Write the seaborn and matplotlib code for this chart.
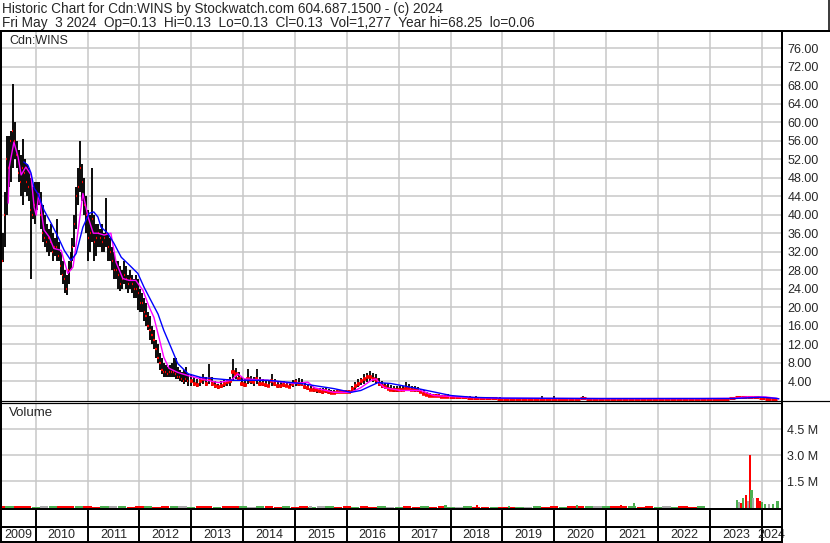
import numpy as np
import pandas as pd
import matplotlib
matplotlib.use("Agg")
import matplotlib.pyplot as plt
from matplotlib.lines import Line2D
import seaborn as sns

# ---------------- data ----------------
# Segment A: bars every 14 days from May 2009
A_START, A_FREQ = "2009-05-01", "14D"
a_hi = [37, 36, 45, 57, 57, 58, 68.3, 60, 56, 54, 53, 56.4, 52, 51, 50, 48, 46, 47, 47, 47,
        45, 42, 40, 38, 37, 38, 36, 35, 39, 34, 32, 30, 28, 27, 30, 32, 35, 40, 46, 50,
        56, 51, 48, 44, 41, 40, 50, 40, 38, 38, 37, 38, 36, 43.6, 36, 35, 33, 32, 30, 30,
        29, 28, 30, 29, 27, 28, 27, 26, 27, 26, 24, 23, 22, 21, 19, 18, 16, 15, 13, 12,
        10, 9, 8, 7.5, 7, 7.5, 8, 9, 9, 7, 6.5, 6, 6.5, 7, 5.5]
a_lo = [30, 29.7, 33, 40, 46, 47, 50, 52, 50, 47, 44, 42, 45, 44, 43, 26.2, 39, 38, 41, 42,
        37, 34, 33, 32, 31, 32, 30, 31, 30, 30, 27, 25, 23, 22.6, 25, 28, 30, 33, 37, 42,
        45, 43, 40, 36, 30, 32, 34, 30, 31, 33, 33, 32, 32, 33, 30, 30, 28, 26, 26, 24,
        23.6, 24, 25, 24, 23, 24, 23, 22, 22, 19.3, 19, 19, 17, 16, 15, 13, 12, 11, 9, 8,
        6.5, 5.5, 5, 5, 5, 5, 5, 5, 4.5, 4.5, 4, 3.8, 3.5, 3.8, 3]
a_cl = [33, 30, 40, 52, 50, 56, 58, 56, 53, 49, 47, 50, 49, 47, 46, 41, 40, 42, 45, 44,
        40, 36, 35, 34, 35, 34, 32, 33, 33, 31, 29, 27, 26, 24, 28, 30, 33, 38, 44, 46,
        50, 47, 42, 40, 35, 36, 39, 34, 35, 36, 35, 34, 35, 36, 33, 32, 30, 28, 28, 27,
        25, 26, 27, 26, 25, 26, 25, 24, 24, 23, 21, 21, 19, 18, 16, 15, 14, 13, 11, 9,
        8, 6.5, 6, 6, 5.5, 6, 6, 6, 5.5, 5, 5, 4.5, 4, 4.5, 4]

# Segment B: bars every 21 days from 2013
B_START, B_FREQ = "2013-01-01", "21D"
b_hi = [5.5, 5.0, 4.5, 5.0, 5.5, 5.0, 7.8, 5.0, 4.0, 3.5, 4.0, 4.3, 4.5, 5.0, 8.9, 6.8, 6.0, 5.0,
        4.5, 6.7, 5.2, 5.0, 6.7, 5.0, 4.5, 4.0, 4.0, 5.6, 4.5, 4.0, 3.8, 4.0, 3.8, 3.6, 4.3, 4.5,
        4.8, 4.5, 3.8, 3.5, 3.0, 2.8, 2.6, 2.6, 2.5, 2.6, 2.4, 2.2, 2.0, 2.0, 2.0, 2.0, 2.0, 2.2,
        3.0, 3.8, 4.5, 4.8, 5.6, 5.8, 6.2, 5.8, 5.5, 4.6, 4.0, 3.6, 3.4, 3.2, 3.0, 3.0, 3.0, 3.0,
        3.8, 3.4, 3.0, 3.0, 2.8, 2.4, 2.0, 1.6, 1.4, 1.3, 1.2, 1.2, 1.0, 1.0, 1.2]
b_lo = [3.0, 3.0, 2.8, 3.0, 3.5, 3.0, 3.5, 3.0, 2.5, 2.4, 2.6, 2.8, 3.0, 3.0, 4.0, 4.5, 4.0, 3.0,
        2.8, 3.5, 3.5, 3.0, 3.5, 3.0, 3.0, 2.8, 2.7, 3.0, 3.0, 2.6, 2.6, 2.7, 2.7, 2.6, 2.8, 3.0,
        3.0, 3.0, 2.4, 2.2, 2.0, 1.7, 1.5, 1.5, 1.3, 1.4, 1.3, 1.3, 1.3, 1.4, 1.4, 1.4, 1.4, 1.4,
        1.6, 2.2, 2.8, 3.2, 3.5, 3.8, 4.0, 3.8, 3.5, 3.0, 2.6, 2.4, 2.0, 1.8, 1.6, 1.6, 1.8, 1.8,
        2.0, 2.0, 1.8, 1.7, 1.6, 1.4, 1.0, 0.7, 0.6, 0.6, 0.5, 0.5, 0.4, 0.4, 0.4]
b_cl = [4.0, 3.5, 3.2, 4.0, 4.5, 3.5, 4.5, 3.5, 3.0, 2.8, 3.0, 3.5, 3.8, 4.0, 6.0, 5.5, 4.5, 3.5,
        3.2, 4.5, 4.0, 3.8, 4.5, 3.5, 3.5, 3.2, 3.0, 4.0, 3.5, 3.0, 3.0, 3.2, 3.0, 2.8, 3.5, 3.8,
        3.5, 3.5, 2.8, 2.6, 2.2, 2.0, 2.0, 1.8, 1.6, 1.8, 1.6, 1.5, 1.5, 1.6, 1.6, 1.6, 1.6, 1.7,
        2.4, 3.0, 3.5, 4.0, 4.5, 5.0, 5.0, 4.5, 4.2, 3.5, 3.0, 2.8, 2.4, 2.2, 2.0, 2.0, 2.2, 2.2,
        2.4, 2.4, 2.2, 2.0, 2.0, 1.6, 1.3, 1.0, 0.9, 0.8, 0.7, 0.7, 0.6, 0.5, 0.6]

# Segment C: bars every 42 days from 2018
C_START, C_FREQ = "2018-01-12", "42D"
c_hi = [1.0, 0.9, 0.9, 0.8, 0.7, 0.6, 0.6, 0.5, 0.5, 0.45, 0.4, 0.4, 0.35, 0.4, 0.45, 0.7, 0.4,
        0.7, 0.4, 0.35, 0.4, 0.45, 0.7, 0.45, 0.4, 0.4, 0.35, 0.35, 0.4, 0.35, 0.35, 0.4, 0.35,
        0.35, 0.4, 0.35, 0.35, 0.4, 0.35, 0.35, 0.4, 0.35, 0.35, 0.4, 0.35, 0.35, 0.4, 0.6, 0.9,
        0.8, 0.8, 0.7, 0.6, 0.4, 0.3]
c_lo = [0.4, 0.3, 0.3, 0.3, 0.2, 0.2, 0.2, 0.2, 0.15, 0.12, 0.1, 0.1, 0.1, 0.1, 0.1, 0.1, 0.1,
        0.12, 0.1, 0.1, 0.1, 0.12, 0.15, 0.12, 0.1, 0.1, 0.08, 0.08, 0.08, 0.08, 0.08, 0.08, 0.08,
        0.08, 0.08, 0.08, 0.08, 0.08, 0.08, 0.08, 0.08, 0.08, 0.08, 0.08, 0.08, 0.08, 0.08, 0.2,
        0.3, 0.35, 0.35, 0.3, 0.2, 0.1, 0.1]
c_cl = [0.6, 0.5, 0.5, 0.4, 0.4, 0.35, 0.3, 0.3, 0.25, 0.2, 0.2, 0.2, 0.15, 0.2, 0.2, 0.25, 0.2,
        0.25, 0.2, 0.15, 0.2, 0.2, 0.3, 0.2, 0.2, 0.15, 0.15, 0.15, 0.15, 0.15, 0.15, 0.15, 0.15,
        0.15, 0.15, 0.15, 0.15, 0.15, 0.15, 0.15, 0.15, 0.15, 0.15, 0.15, 0.15, 0.15, 0.15, 0.4,
        0.6, 0.6, 0.55, 0.5, 0.3, 0.15, 0.13]

# moving averages (decimal year, price)
ma_fast_year = [2009.47, 2009.49, 2009.58, 2009.66, 2009.72, 2009.81, 2009.91, 2009.97, 2010.01,
                2010.06, 2010.16, 2010.26, 2010.35, 2010.49, 2010.62, 2010.72, 2010.82, 2010.91,
                2011.01, 2011.11, 2011.20, 2011.32, 2011.45, 2011.55, 2011.68, 2011.80, 2011.93,
                2012.07, 2012.19, 2012.28, 2012.38, 2012.47, 2012.57, 2012.74, 2012.94, 2013.19,
                2013.52, 2013.77, 2013.90, 2014.02, 2014.48, 2014.98, 2015.25, 2015.37, 2015.75,
                2016.08, 2016.27, 2016.47, 2016.56, 2016.72, 2017.04, 2017.43, 2017.68, 2018.34,
                2018.97, 2020.90, 2022.83, 2023.47, 2023.70, 2024.08, 2024.28, 2024.33]
ma_fast = [42.5, 50.3, 55.7, 52.5, 48.6, 50.3, 48.6, 41.6, 39.9, 44.6, 36.7, 35.2, 32.7, 32.3,
           27.3, 28.7, 36.7, 44.6, 39.5, 36.0, 36.0, 35.6, 36.0, 29.7, 26.2, 25.8, 25.8, 23.6,
           20.0, 17.8, 13.3, 9.2, 6.8, 5.9, 5.2, 4.5, 3.7, 4.2, 5.6, 4.5, 4.2, 3.5, 3.8, 2.6,
           1.6, 1.6, 2.6, 4.2, 4.5, 2.6, 2.0, 2.0, 0.9, 0.5, 0.3, 0.25, 0.25, 0.3, 0.6, 0.6,
           0.3, 0.2]
ma_slow_year = [2009.77, 2009.85, 2009.91, 2009.97, 2010.04, 2010.16, 2010.30, 2010.43, 2010.55,
                2010.68, 2010.78, 2010.91, 2011.03, 2011.12, 2011.20, 2011.26, 2011.39, 2011.51,
                2011.65, 2011.78, 2011.97, 2012.09, 2012.22, 2012.36, 2012.47, 2012.61, 2012.74,
                2012.94, 2013.19, 2013.82, 2014.48, 2015.12, 2015.75, 2016.08, 2016.27, 2016.60,
                2016.85, 2017.37, 2018.01, 2018.45, 2018.97, 2020.90, 2023.47, 2023.99, 2024.28,
                2024.33]
ma_slow = [51.4, 50.7, 49.0, 45.7, 44.6, 41.0, 38.1, 35.2, 32.3, 30.1, 31.6, 37.3, 40.3, 40.6,
           39.5, 37.3, 36.0, 33.8, 30.8, 29.4, 27.3, 24.3, 21.5, 18.5, 15.0, 11.3, 7.8, 5.6,
           4.8, 4.2, 4.2, 3.5, 2.4, 1.6, 2.0, 3.7, 3.5, 2.4, 0.9, 0.5, 0.35, 0.25, 0.26, 0.54,
           0.3, 0.2]

# volume (millions): background strip every two months, then individual spikes
VOL_BASE_START, VOL_BASE_FREQ = "2009-05-01", "2MS"
vol_base_m = [0.08, 0.06, 0.09, 0.07,
              0.05, 0.08, 0.06, 0.07, 0.09, 0.06,
              0.07, 0.05, 0.08, 0.06, 0.07, 0.05,
              0.06, 0.08, 0.05, 0.07, 0.06, 0.09,
              0.05, 0.06, 0.08, 0.05, 0.07, 0.06,
              0.06, 0.05, 0.09, 0.06, 0.05, 0.07,
              0.05, 0.06, 0.05, 0.07, 0.06, 0.05,
              0.06, 0.05, 0.07, 0.05, 0.06, 0.05,
              0.05, 0.06, 0.05, 0.07, 0.05, 0.06,
              0.05, 0.04, 0.06, 0.05, 0.04, 0.05,
              0.04, 0.05, 0.04, 0.05, 0.06, 0.05,
              0.06, 0.05, 0.07, 0.06, 0.08, 0.06,
              0.07, 0.06, 0.08, 0.06, 0.05, 0.06,
              0.05, 0.06, 0.05, 0.06, 0.05, 0.07]
vol_base_pattern = ["red", "green", "red", "red", "green", "gray", "green", "red"]
vol_spike_date = ["2015-04-20", "2017-11-25", "2018-07-05", "2019-02-15", "2020-06-10",
                  "2021-04-15", "2021-07-15", "2022-06-01",
                  "2023-07-10", "2023-07-24", "2023-08-07", "2023-08-22", "2023-09-12",
                  "2023-09-26", "2023-10-10", "2023-10-22", "2023-11-02", "2023-12-03",
                  "2023-12-19", "2024-01-03", "2024-01-24", "2024-02-21", "2024-03-20",
                  "2024-04-22"]
vol_spike_m = [0.10, 0.15, 0.15, 0.10, 0.12, 0.15, 0.25, 0.10,
               0.45, 0.30, 0.25, 0.55, 0.72, 0.35, 3.00, 1.00, 0.55, 0.55,
               0.35, 0.30, 0.22, 0.20, 0.22, 0.40]
vol_spike_col = ["gray", "green", "red", "green", "green", "red", "green", "red",
                 "green", "gray", "red", "green", "red", "gray", "red", "green", "gray", "red",
                 "red", "green", "green", "gray", "green", "green"]

years = list(range(2009, 2025))
price_ticks = list(range(4, 80, 4))
vol_ticks = [1.5, 3.0, 4.5]

title1 = "Historic Chart for Cdn:WINS by Stockwatch.com 604.687.1500 - (c) 2024"
title2 = ("Fri May  3 2024  Op=0.13  Hi=0.13  Lo=0.13  Cl=0.13  Vol=1,277  "
          "Year hi=68.25  lo=0.06")


# ---------------- helpers ----------------
def dec_year(dates):
    d = pd.DatetimeIndex(pd.to_datetime(list(dates)))
    y = d.year.to_numpy()
    start = pd.DatetimeIndex([pd.Timestamp(f"{v}-01-01") for v in y])
    end = pd.DatetimeIndex([pd.Timestamp(f"{v + 1}-01-01") for v in y])
    return y + np.asarray((d - start) / (end - start), dtype=float)


def segment(start, freq, hi, lo, cl, half, lw_bar, lw_cl):
    dates = pd.date_range(start, periods=len(hi), freq=freq)
    df = pd.DataFrame({"t": dec_year(dates), "hi": hi, "lo": lo, "cl": cl})
    df["half"], df["lw_bar"], df["lw_cl"] = half, lw_bar, lw_cl
    return df


bars = pd.concat([
    segment(A_START, A_FREQ, a_hi, a_lo, a_cl, 0.011, 1.35, 1.6),
    segment(B_START, B_FREQ, b_hi, b_lo, b_cl, 0.030, 1.3, 2.6),
    segment(C_START, C_FREQ, c_hi, c_lo, c_cl, 0.058, 1.2, 2.2),
], ignore_index=True)

vol_base_t = dec_year(pd.date_range(VOL_BASE_START, periods=len(vol_base_m), freq=VOL_BASE_FREQ))
vol_base_c = [vol_base_pattern[i % len(vol_base_pattern)] for i in range(len(vol_base_m))]
vol_spike_t = dec_year(vol_spike_date)

COL = {"red": "#ff0000", "green": "#4cb050", "gray": "#a8a8a8"}

# ---------------- figure ----------------
sns.set_style("white")
plt.rcParams["font.family"] = ["Liberation Sans", "DejaVu Sans"]

W, H = 830, 543
fig = plt.figure(figsize=(W / 100, H / 100), dpi=100)
fig.patch.set_facecolor("white")


def rect(x0, y0, x1, y1):
    return [x0 / W, 1 - y1 / H, (x1 - x0) / W, (y1 - y0) / H]


X0, X1 = 2009.331, 2024.372
GRID = "#c8c8c8"
FS = 9

ax_p = fig.add_axes(rect(1, 32, 781, 400.5))
ax_v = fig.add_axes(rect(1, 403, 781, 507.5))
ax_r1 = fig.add_axes(rect(1, 509, 781, 527))
ax_r2 = fig.add_axes(rect(1, 527, 781, 542))

for ax in (ax_p, ax_v, ax_r1, ax_r2):
    ax.set_xlim(X0, X1)
    for s in ax.spines.values():
        s.set_visible(False)
    ax.set_facecolor("white")

# price panel
ax_p.set_ylim(-0.17, 79.5)
ax_p.set_xticks(years[1:])
ax_p.set_yticks(price_ticks)
ax_p.set_yticklabels([f"{v:.2f}" for v in price_ticks])
ax_p.grid(True, color=GRID, lw=1.1)
ax_p.set_axisbelow(True)
ax_p.yaxis.tick_right()
ax_p.tick_params(axis="y", length=0, pad=4.5, labelsize=FS, labelright=True, labelleft=False)
ax_p.tick_params(axis="x", length=0, labelbottom=False)

for lw_bar, grp in bars.groupby("lw_bar"):
    ax_p.vlines(grp["t"], grp["lo"], grp["hi"], color="black", lw=lw_bar, zorder=2)
for lw_cl, grp in bars.groupby("lw_cl"):
    ax_p.hlines(grp["cl"], grp["t"] - grp["half"], grp["t"] + grp["half"],
                color="#ff0000", lw=lw_cl, zorder=3)
sns.lineplot(x=ma_fast_year, y=ma_fast, color="#ff00ff", lw=1.0, ax=ax_p,
             estimator=None, sort=False, zorder=4)
sns.lineplot(x=ma_slow_year, y=ma_slow, color="#0000ff", lw=1.0, ax=ax_p,
             estimator=None, sort=False, zorder=5)
ax_p.set_xlabel("")
ax_p.set_ylabel("")
ax_p.text(9 / W, 1 - 41.5 / H, "Cdn:WINS", transform=fig.transFigure, fontsize=FS,
          va="center", ha="left")

# volume panel
ax_v.set_ylim(0, 6.0)
ax_v.set_xticks(years[1:])
ax_v.set_yticks(vol_ticks)
ax_v.set_yticklabels([f"{v:.1f} M" for v in vol_ticks])
ax_v.grid(True, color=GRID, lw=1.1)
ax_v.set_axisbelow(True)
ax_v.yaxis.tick_right()
ax_v.tick_params(axis="y", length=0, pad=4.5, labelsize=FS, labelright=True, labelleft=False)
ax_v.tick_params(axis="x", length=0, labelbottom=False)
ax_v.bar(vol_base_t, vol_base_m, width=0.16, color=[COL[c] for c in vol_base_c],
         align="center", edgecolor="none", linewidth=0, zorder=2)
ax_v.bar(vol_spike_t, vol_spike_m, width=0.05, color=[COL[c] for c in vol_spike_col],
         align="center", edgecolor="none", linewidth=0, zorder=3)
ax_v.text(9 / W, 1 - 413 / H, "Volume", transform=fig.transFigure, fontsize=FS + 0.5,
          va="center", ha="left")

# bottom rows
for ax in (ax_r1, ax_r2):
    ax.set_ylim(0, 1)
    ax.set_xticks([])
    ax.set_yticks([])
    ax.vlines(years[1:], 0, 1, color="black", lw=1.4)
for y in years:
    c = (max(y, X0) + min(y + 1, X1)) / 2
    ax_r2.text(c, 0.45, str(y), ha="center", va="center", fontsize=FS, clip_on=False)

# header text
fig.text(2 / W, 1 - 9 / H, title1, fontsize=9.8, va="center", ha="left")
fig.text(2 / W, 1 - 23 / H, title2, fontsize=9.8, va="center", ha="left")


# frame lines (pixel coordinates of the layout)
def fline(x0, y0, x1, y1, px):
    fig.add_artist(Line2D([x0 / W, x1 / W], [1 - y0 / H, 1 - y1 / H],
                          transform=fig.transFigure, color="black", lw=px * 0.72,
                          solid_capstyle="butt"))


fline(0, 31, 829.5, 31, 2)
fline(828.5, 0, 828.5, 31, 1.5)
fline(0.8, 31, 0.8, 543, 2)
fline(781.5, 31, 781.5, 543, 2)
fline(0, 400.7, 830, 400.7, 1.2)
fline(0, 402.7, 781, 402.7, 1.2)
fline(0, 508.8, 781, 508.8, 2)
fline(0, 526.7, 781, 526.7, 2)
fline(0, 542.2, 781, 542.2, 2)

fig.savefig("out.png", dpi=100)
